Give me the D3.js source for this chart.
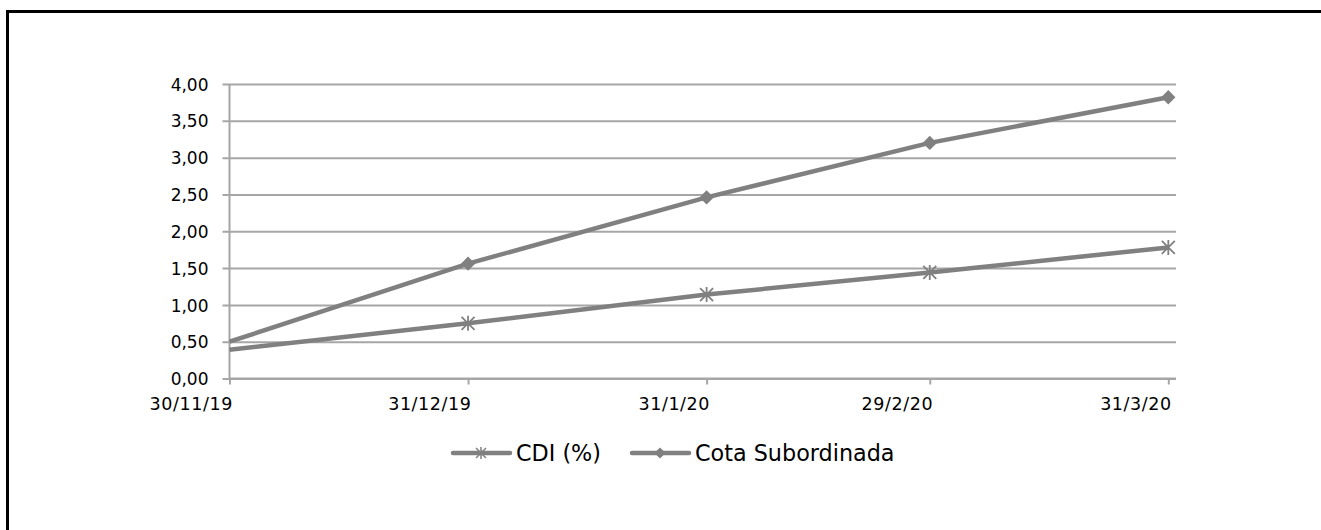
<!DOCTYPE html>
<html>
<head>
<meta charset="utf-8">
<script src="https://cdn.jsdelivr.net/npm/d3@7/dist/d3.min.js"></script>
<style>
  html, body { margin: 0; padding: 0; background: #fff; }
  svg { display: block; }
  text { font-family: "DejaVu Sans", Verdana, sans-serif; fill: #000; }
</style>
</head>
<body>
<svg id="chart" width="1321" height="530"></svg>
<script>
// Monthly observation dates (day/month/year)
const dates = ["2019-11-30", "2019-12-31", "2020-01-31", "2020-02-29", "2020-03-31"];
// Accumulated returns, in %
const cdiValues = [0.39, 0.75, 1.14, 1.44, 1.78];
const cotaValues = [0.50, 1.56, 2.46, 3.20, 3.82];
const seriesNames = ["CDI (%)", "Cota Subordinada"];
const yTicks = [0, 0.5, 1, 1.5, 2, 2.5, 3, 3.5, 4];

const parse = d3.timeParse("%Y-%m-%d");
const dateObjs = dates.map(parse);

const svg = d3.select("#chart");
const grey = "#808080";
const gridGrey = "#a6a6a6";

// Outer frame (only top and left edges fall inside the view)
svg.append("rect")
  .attr("x", 7.5).attr("y", 11.5)
  .attr("width", 1400).attr("height", 600)
  .attr("fill", "none").attr("stroke", "#000").attr("stroke-width", 3);

const plot = { left: 229.5, right: 1176, top: 84, bottom: 378.5 };

// Date axis runs one day past the last observation
const x = d3.scaleTime()
  .domain([dateObjs[0], d3.timeDay.offset(dateObjs[dateObjs.length - 1], 1)])
  .range([plot.left, plot.right]);
const y = d3.scaleLinear().domain([0, 4]).range([plot.bottom, plot.top]);

const fmt = v => d3.format(".2f")(v).replace(".", ",");
const dateFmt = d => `${d.getDate()}/${d.getMonth() + 1}/${String(d.getFullYear()).slice(2)}`;

// Horizontal gridlines + y axis
const yAxis = d3.axisLeft(y)
  .tickValues(yTicks)
  .tickFormat(fmt)
  .tickSize(-(plot.right - plot.left))
  .tickPadding(14);
const gy = svg.append("g").attr("transform", `translate(${plot.left},0)`).call(yAxis);
gy.select(".domain").remove();
gy.selectAll(".tick line").attr("stroke", gridGrey).attr("stroke-width", 2).attr("x1", -7);
gy.selectAll(".tick text").attr("font-size", 17).attr("x", -21).attr("dy", "0.36em");

// Vertical axis line
svg.append("line")
  .attr("x1", plot.left).attr("x2", plot.left)
  .attr("y1", plot.top).attr("y2", plot.bottom)
  .attr("stroke", gridGrey).attr("stroke-width", 2);

// Date axis
const xAxis = d3.axisBottom(x)
  .tickValues(dateObjs)
  .tickFormat(dateFmt)
  .tickSize(6)
  .tickSizeOuter(0);
const gx = svg.append("g").attr("transform", `translate(0,${plot.bottom})`).call(xAxis);
gx.select(".domain").attr("stroke", gridGrey).attr("stroke-width", 2)
  .attr("d", `M${plot.left},0H${plot.right}`);
gx.selectAll(".tick line").attr("stroke", gridGrey).attr("stroke-width", 2);
gx.selectAll(".tick text")
  .attr("font-size", 17.5)
  .attr("letter-spacing", 0.6)
  .attr("text-anchor", "end")
  .attr("x", 3)
  .attr("y", 31.5)
  .attr("dy", 0);

// Series
const series = [
  { name: seriesNames[0], values: cdiValues, marker: "star" },
  { name: seriesNames[1], values: cotaValues, marker: "diamond" }
];

const line = d3.line().x(d => x(d.date)).y(d => y(d.value));

function drawMarker(g, type, cx, cy) {
  if (type === "diamond") {
    g.append("path")
      .attr("d", d3.symbol(d3.symbolDiamond2, 130)())
      .attr("transform", `translate(${cx},${cy})`)
      .attr("fill", grey);
  } else {
    const r = 6.5;
    const p = `M${-r},${-r}L${r},${r}M${-r},${r}L${r},${-r}M0,${-r - 1}L0,${r + 1}`;
    g.append("path")
      .attr("d", p)
      .attr("transform", `translate(${cx},${cy})`)
      .attr("stroke", grey).attr("stroke-width", 1.8).attr("fill", "none");
  }
}

series.forEach(s => {
  const pts = s.values.map((v, i) => ({ date: dateObjs[i], value: v }));
  const g = svg.append("g");
  g.append("path")
    .datum(pts)
    .attr("d", line)
    .attr("fill", "none")
    .attr("stroke", grey)
    .attr("stroke-width", 4.5);
  // first point sits on the axis and carries no marker
  pts.slice(1).forEach(p => drawMarker(g, s.marker, x(p.date), y(p.value)));
});

// Legend
const legendItems = [
  { name: seriesNames[0], marker: "star", x0: 453 },
  { name: seriesNames[1], marker: "diamond", x0: 632 }
];
const ly = 453;
legendItems.forEach(it => {
  const g = svg.append("g");
  g.append("line")
    .attr("x1", it.x0).attr("x2", it.x0 + 57)
    .attr("y1", ly).attr("y2", ly)
    .attr("stroke", grey).attr("stroke-width", 4.5).attr("stroke-linecap", "round");
  if (it.marker === "diamond") {
    g.append("path").attr("d", d3.symbol(d3.symbolDiamond2, 80)())
      .attr("transform", `translate(${it.x0 + 28},${ly})`).attr("fill", grey);
  } else {
    const r = 5;
    g.append("path")
      .attr("d", `M${-r},${-r}L${r},${r}M${-r},${r}L${r},${-r}M0,${-r - 1}L0,${r + 1}`)
      .attr("transform", `translate(${it.x0 + 28},${ly})`)
      .attr("stroke", grey).attr("stroke-width", 1.5).attr("fill", "none");
  }
  g.append("text")
    .attr("x", it.x0 + 63).attr("y", ly)
    .attr("dy", "0.36em")
    .attr("font-size", 22.3)
    .text(it.name);
});
</script>
</body>
</html>
